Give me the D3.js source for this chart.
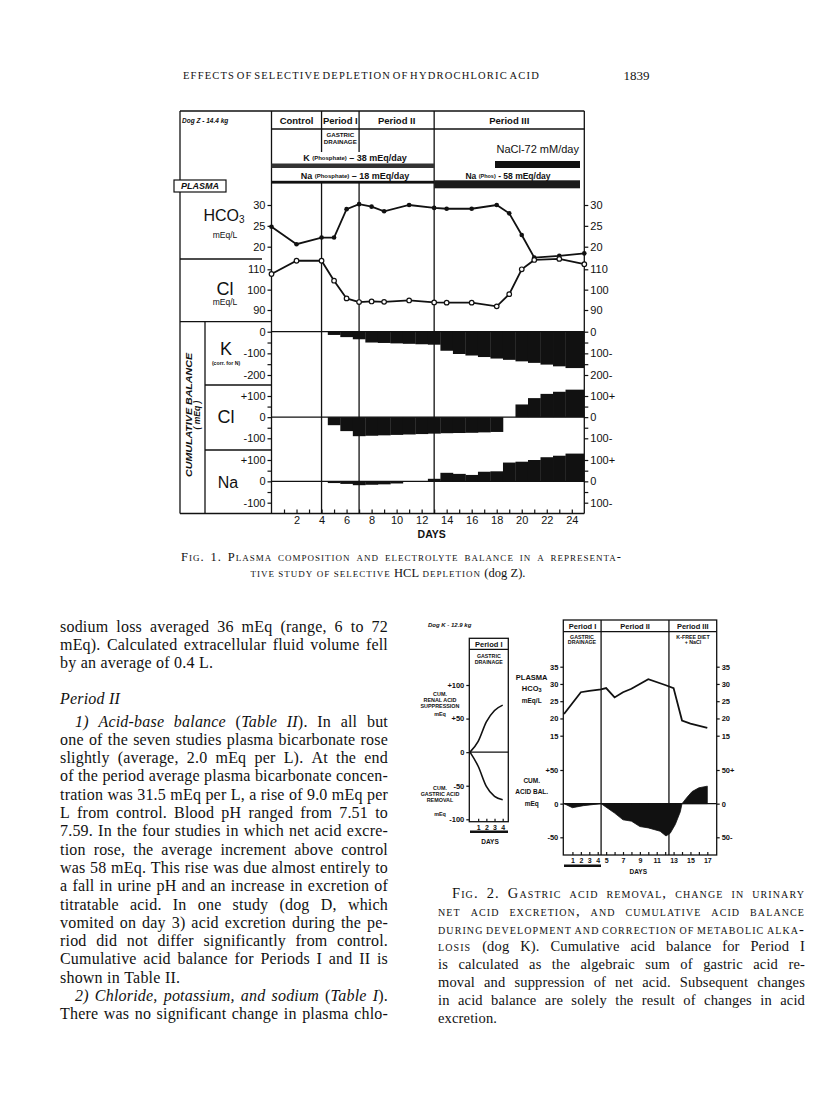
<!DOCTYPE html>
<html><head><meta charset="utf-8">
<script src="https://cdn.jsdelivr.net/npm/d3@7"></script>
<style>body{margin:0;background:#fff}svg{display:block}</style>
</head><body>
<svg id="page" width="816" height="1109"></svg>
<script>
// ---------------- DATA ----------------
// Figure 1 (dog Z)
const fig1Periods = ["Control", "Period I", "Period II", "Period III"];
const fig1PeriodBounds = [0, 4, 7, 13, 25];
const fig1Days = [0, 2, 4, 5, 6, 7, 8, 9, 11, 13, 14, 16, 18, 19, 20, 21, 23, 25];
const fig1HCO3 = [24.8, 20.6, 22.2, 22.2, 29.0, 30.2, 29.6, 28.5, 30.0, 29.3, 29.1, 29.1, 30.0, 28.0, 22.8, 17.4, 17.8, 18.4];
const fig1Cl = [107.7, 114.2, 114.2, 104.4, 95.7, 93.9, 94.2, 94.0, 94.7, 93.7, 93.6, 93.6, 91.8, 97.8, 110.0, 114.6, 115.1, 112.5];
const balDays = [5, 6, 7, 8, 9, 10, 11, 12, 13, 14, 15, 16, 17, 18, 19, 20, 21, 22, 23, 24];
const balK = [-15, -25, -35, -50, -52, -54, -56, -58, -60, -88, -103, -110, -117, -124, -130, -137, -144, -152, -160, -168];
const balCl = [-38, -66, -90, -88, -86, -84, -82, -80, -78, -76, -75, -74, -72, -70, 0, 60, 90, 110, 120, 130];
const balNa = [-8, -12, -18, -16, -14, -10, -3, 0, 12, 40, 35, 30, 45, 47, 88, 92, 100, 113, 120, 130];
const fig1XLabels = [2, 4, 6, 8, 10, 12, 14, 16, 18, 20, 22, 24];

// Figure 2 (dog K)
const fig2LDays = [0, 1, 2, 3, 4];
const fig2Renal = [0, 16, 45, 62, 70];
const fig2Gastric = [0, -21, -51, -66, -71];
const fig2Periods = ["Period I", "Period II", "Period III"];
const fig2PeriodBounds = [0, 4.4, 12.45, 18.1];
const fig2HDays = [0, 2, 3, 4.4, 5, 6, 7, 8, 10, 12, 13, 14, 15, 17];
const fig2HCO3 = [21.3, 27.6, 28.0, 28.4, 28.8, 26.1, 27.6, 28.6, 31.4, 29.7, 28.8, 19.4, 18.5, 17.3];
const fig2AcidDays = [0, 1, 2.3, 4.4, 6, 7, 8, 9, 10, 11.4, 12.1, 12.6, 13.2, 13.8, 14, 14.6, 15.2, 16, 17];
const fig2Acid = [0, -6, -3, 0, -14, -24, -26, -34, -36, -41, -48, -44, -31, -12, 0, 9.5, 18, 23.5, 26];
const fig2XLabels = [1, 2, 3, 4, 5, 7, 9, 11, 13, 15, 17];

// Text
const pageTitle = "EFFECTS OF SELECTIVE DEPLETION OF HYDROCHLORIC ACID";
const pageNumber = "1839";
const fig1Caption = ["~Fig. 1. Plasma composition and electrolyte balance in a representa-~",
  "~tive study of selective~ HCL ~depletion~ (dog Z)."];
const bodyTop = ["sodium loss averaged 36 mEq (range, 6 to 72",
  "mEq). Calculated extracellular fluid volume fell",
  "by an average of 0.4 L."];
const bodyHeading = "Period II";
const bodyMain = ["_1) Acid-base balance_ (_Table II_). In all but",
  "one of the seven studies plasma bicarbonate rose",
  "slightly (average, 2.0 mEq per L). At the end",
  "of the period average plasma bicarbonate concen-",
  "tration was 31.5 mEq per L, a rise of 9.0 mEq per",
  "L from control. Blood pH ranged from 7.51 to",
  "7.59. In the four studies in which net acid excre-",
  "tion rose, the average increment above control",
  "was 58 mEq. This rise was due almost entirely to",
  "a fall in urine pH and an increase in excretion of",
  "titratable acid. In one study (dog D, which",
  "vomited on day 3) acid excretion during the pe-",
  "riod did not differ significantly from control.",
  "Cumulative acid balance for Periods I and II is",
  "shown in Table II.",
  "_2) Chloride, potassium, and sodium_ (_Table I_).",
  "There was no significant change in plasma chlo-"];
const fig2Caption = ["~Fig. 2. Gastric acid removal, change in urinary~",
  "~net acid excretion, and cumulative acid balance~",
  "~during development and correction of metabolic alka-~",
  "~losis~ (dog K). Cumulative acid balance for Period I",
  "is calculated as the algebraic sum of gastric acid re-",
  "moval and suppression of net acid. Subsequent changes",
  "in acid balance are solely the result of changes in acid",
  "excretion."];

// ---------------- HELPERS ----------------
const BLACK = "#111";
const SANS = "Liberation Sans, Arial, sans-serif";
const SERIF = "Liberation Serif, Times New Roman, serif";
const svg = d3.select("#page");

function ln(g, xa, ya, xb, yb, w = 1.3) {
  g.append("line").attr("x1", xa).attr("y1", ya).attr("x2", xb).attr("y2", yb)
    .attr("stroke", BLACK).attr("stroke-width", w);
}
function tx(g, x, y, s, o = {}) {
  const t = g.append("text").attr("x", x).attr("y", y).text(s)
    .attr("font-family", o.family || SANS).attr("font-size", o.size || 10)
    .attr("text-anchor", o.anchor || "middle").attr("dominant-baseline", "central")
    .attr("fill", BLACK);
  if (o.weight) t.attr("font-weight", o.weight);
  if (o.italic) t.attr("font-style", "italic");
  if (o.len) t.attr("textLength", o.len).attr("lengthAdjust", "spacingAndGlyphs");
  return t;
}
function styleAxis(g, size, weight) {
  g.select(".domain").remove();
  g.selectAll(".tick line").attr("stroke", BLACK).attr("stroke-width", 1.2);
  g.selectAll(".tick text").attr("fill", BLACK).attr("font-family", SANS)
    .attr("font-size", size).attr("font-weight", weight || "normal");
}
function parseWords(s) {
  let it = false, sc = false;
  return s.split(" ").map(w => {
    const segs = []; let cur = "";
    for (const ch of w) {
      if (ch === "_" || ch === "~") {
        if (cur) { segs.push({ t: cur, it, sc }); cur = ""; }
        if (ch === "_") it = !it; else sc = !sc;
      } else cur += ch;
    }
    if (cur) segs.push({ t: cur, it, sc });
    return segs;
  });
}
function textLine(g, s, xa, xb, y, o) {
  const words = parseWords(s);
  const els = words.map(segs => {
    const t = g.append("text").attr("y", y).attr("font-family", o.family || SERIF)
      .attr("font-size", o.size).attr("fill", BLACK);
    if (o.ls) t.style("letter-spacing", o.ls + "px");
    segs.forEach(sg => {
      const sp = t.append("tspan").text(sg.t);
      if (sg.it) sp.attr("font-style", "italic");
      if (sg.sc) sp.style("font-variant", "small-caps").style("letter-spacing", (o.scls || 0.8) + "px");
    });
    return t;
  });
  const widths = els.map(t => t.node().getComputedTextLength());
  const total = d3.sum(widths);
  let gap = o.size * 0.27;
  let x = xa;
  if (o.mode === "justify" && els.length > 1) gap = (xb - xa - total) / (els.length - 1);
  if (o.mode === "center") x = (xa + xb) / 2 - (total + gap * (els.length - 1)) / 2;
  els.forEach((t, i) => { t.attr("x", x); x += widths[i] + gap; });
}
const num = d => String(d);

// ---------------- PAGE HEADER ----------------
const head = svg.append("g");
textLine(head, pageTitle, 183, 540, 79, { size: 10.5, mode: "justify", ls: 1.2 });
tx(head, 636.5, 75, pageNumber, { family: SERIF, size: 13 });

// ---------------- FIGURE 1 ----------------
const f1 = svg.append("g");
const x1 = d3.scaleLinear([0, 25], [271.5, 584.3]);
const yH = d3.scaleLinear([20, 30], [246.7, 205]);
const yC = d3.scaleLinear([90, 110], [310, 269.3]);
const yK = d3.scaleLinear([-200, 0], [375, 331.7]);
const yBCl = d3.scaleLinear([-100, 100], [438.3, 396]);
const yBNa = d3.scaleLinear([-100, 100], [502.7, 460]);
const L1 = 180, R1 = x1(25), T1 = 111, B1 = 513.5, P1 = x1(0);

// frame
ln(f1, L1, T1, R1, T1); ln(f1, R1, T1, R1, B1); ln(f1, L1, B1, R1, B1);
ln(f1, L1, T1, L1, B1); ln(f1, P1, T1, P1, B1);
ln(f1, P1, 129, R1, 129);
[4, 7].forEach(d => { ln(f1, x1(d), T1, x1(d), 152); ln(f1, x1(d), 183, x1(d), B1); });
ln(f1, x1(13), T1, x1(13), B1);
ln(f1, L1, 259, 262, 259);
ln(f1, L1, 321.7, P1, 321.7);
ln(f1, 205, 321.7, 205, B1);
ln(f1, 205, 385, P1, 385);
ln(f1, 205, 450, P1, 450);

// header
fig1Periods.forEach((p, i) => {
  tx(f1, (x1(fig1PeriodBounds[i]) + x1(fig1PeriodBounds[i + 1])) / 2, 120.5, p, { size: 9.5, weight: "bold" });
});
tx(f1, 182, 120, "Dog Z - 14.4 kg", { size: 6.5, weight: "bold", italic: true, anchor: "start" });
tx(f1, (x1(4) + x1(7)) / 2, 134.5, "GASTRIC", { size: 6.2, weight: "bold" });
tx(f1, (x1(4) + x1(7)) / 2, 141.5, "DRAINAGE", { size: 6.2, weight: "bold" });

const kt = f1.append("text").attr("x", 355).attr("y", 158).attr("text-anchor", "middle")
  .attr("dominant-baseline", "central").attr("font-family", SANS).attr("font-weight", "bold").attr("fill", BLACK);
kt.append("tspan").attr("font-size", 9).text("K ");
kt.append("tspan").attr("font-size", 6).text("(Phosphate)");
kt.append("tspan").attr("font-size", 9).text(" \u2013 38 mEq/day");
const nt = f1.append("text").attr("x", 355).attr("y", 176).attr("text-anchor", "middle")
  .attr("dominant-baseline", "central").attr("font-family", SANS).attr("font-weight", "bold").attr("fill", BLACK);
nt.append("tspan").attr("font-size", 9).text("Na ");
nt.append("tspan").attr("font-size", 6).text("(Phosphate)");
nt.append("tspan").attr("font-size", 9).text(" \u2013 18 mEq/day");
const nt3 = f1.append("text").attr("x", 508).attr("y", 176).attr("text-anchor", "middle")
  .attr("dominant-baseline", "central").attr("font-family", SANS).attr("font-weight", "bold").attr("fill", BLACK);
nt3.append("tspan").attr("font-size", 8.5).text("Na ");
nt3.append("tspan").attr("font-size", 5.5).text("(Phos)");
nt3.append("tspan").attr("font-size", 8.5).text(" - 58 mEq/day");
tx(f1, 579, 149, "NaCl-72 mM/day", { size: 11, anchor: "end" });

f1.append("rect").attr("x", x1(0)).attr("y", 163.5).attr("width", x1(13) - x1(0)).attr("height", 4.5).attr("fill", "#333");
f1.append("rect").attr("x", x1(0)).attr("y", 180.8).attr("width", x1(13) - x1(0)).attr("height", 2.8).attr("fill", BLACK);
f1.append("rect").attr("x", 495).attr("y", 161).attr("width", 85).attr("height", 7).attr("fill", BLACK);
f1.append("rect").attr("x", x1(13)).attr("y", 180.3).attr("width", 580 - x1(13)).attr("height", 8).attr("fill", "#1a1a1a");

// PLASMA tag
f1.append("rect").attr("x", 174).attr("y", 180).attr("width", 52).attr("height", 12)
  .attr("fill", "#fff").attr("stroke", BLACK).attr("stroke-width", 1.2);
tx(f1, 200, 186.3, "PLASMA", { size: 9, weight: "bold", italic: true });

// left labels
const hco = f1.append("text").attr("x", 224).attr("y", 215).attr("text-anchor", "middle")
  .attr("dominant-baseline", "central").attr("font-family", SANS).attr("fill", BLACK);
hco.append("tspan").attr("font-size", 16).text("HCO");
hco.append("tspan").attr("font-size", 10).attr("dy", 4).text("3");
tx(f1, 225, 235, "mEq/L", { size: 8.5 });
tx(f1, 225, 288.5, "Cl", { size: 18 });
tx(f1, 225, 302, "mEq/L", { size: 8.5 });
tx(f1, 226, 348.5, "K", { size: 18 });
tx(f1, 226, 363.3, "(corr. for N)", { size: 5.2, weight: "bold" });
tx(f1, 226, 416.7, "Cl", { size: 18 });
tx(f1, 228, 482, "Na", { size: 16 });
const rot = f1.append("g").attr("transform", "translate(188.5,415) rotate(-90)");
tx(rot, 0, 0, "CUMULATIVE BALANCE", { size: 9, weight: "bold", italic: true, len: 124 });
tx(rot, 0, 8.5, "( mEq )", { size: 8.5, weight: "bold", italic: true });

// axes fig 1
function pm(d) { return d > 0 ? "+" + d : d < 0 ? "-" + (-d) : "0"; }
function pmR(d) { return d > 0 ? d + "+" : d < 0 ? (-d) + "-" : "0"; }
function addAxes(g, scale, majors, minors, fmtL, fmtR) {
  if (minors) {
    g.append("g").attr("transform", `translate(${P1},0)`)
      .call(d3.axisLeft(scale).tickValues(minors).tickSize(4).tickFormat(""))
      .call(a => styleAxis(a, 11));
    g.append("g").attr("transform", `translate(${R1},0)`)
      .call(d3.axisRight(scale).tickValues(minors).tickSize(4).tickFormat(""))
      .call(a => styleAxis(a, 11));
  }
  g.append("g").attr("transform", `translate(${P1},0)`)
    .call(d3.axisLeft(scale).tickValues(majors).tickSize(4).tickPadding(2).tickFormat(fmtL))
    .call(a => styleAxis(a, 11));
  g.append("g").attr("transform", `translate(${R1},0)`)
    .call(d3.axisRight(scale).tickValues(majors).tickSize(4).tickPadding(2).tickFormat(fmtR))
    .call(a => styleAxis(a, 11));
}
addAxes(f1, yH, [20, 25, 30], null, num, num);
addAxes(f1, yC, [90, 100, 110], null, num, num);
addAxes(f1, yK, [-200, -100, 0], [-150, -50], pm, d => d === 0 ? "0" : (-d) + "-");
addAxes(f1, yBCl, [-100, 0, 100], [-50, 50], pm, pmR);
addAxes(f1, yBNa, [-100, 0, 100], [-50, 50], pm, pmR);

f1.append("g").attr("transform", `translate(0,${B1})`)
  .call(d3.axisBottom(x1).tickValues(d3.range(1, 25)).tickSize(-4).tickPadding(3)
    .tickFormat(d => fig1XLabels.includes(d) ? String(d) : ""))
  .call(a => styleAxis(a, 11));
tx(f1, 431.7, 533.5, "DAYS", { size: 10.5, weight: "bold" });

// balance bars
function bars(vals, scale) {
  const z = scale(0);
  ln(f1, P1, z, R1, z, 1.3);
  f1.append("g").selectAll("rect").data(balDays).join("rect")
    .attr("x", d => x1(d - 0.5))
    .attr("width", (d, i) => (i === balDays.length - 1 ? x1(25) - 0.6 : x1(d + 0.5)) - x1(d - 0.5) + 0.3)
    .attr("y", (d, i) => Math.min(z, scale(vals[i])))
    .attr("height", (d, i) => Math.abs(scale(vals[i]) - z))
    .attr("fill", BLACK);
}
bars(balK, yK); bars(balCl, yBCl); bars(balNa, yBNa);

// plasma lines
const lineH = d3.line().x((d, i) => x1(fig1Days[i])).y(d => yH(d));
const lineC = d3.line().x((d, i) => x1(fig1Days[i])).y(d => yC(d));
f1.append("path").datum(fig1HCO3).attr("d", lineH).attr("fill", "none").attr("stroke", BLACK).attr("stroke-width", 1.8);
f1.append("path").datum(fig1Cl).attr("d", lineC).attr("fill", "none").attr("stroke", BLACK).attr("stroke-width", 1.8);
f1.append("g").selectAll("circle").data(fig1HCO3).join("circle")
  .attr("cx", (d, i) => x1(fig1Days[i])).attr("cy", d => yH(d)).attr("r", 2.3).attr("fill", BLACK);
f1.append("g").selectAll("circle").data(fig1Cl).join("circle")
  .attr("cx", (d, i) => x1(fig1Days[i])).attr("cy", d => yC(d)).attr("r", 2.3)
  .attr("fill", "#fff").attr("stroke", BLACK).attr("stroke-width", 1.2);

// caption fig 1
const cap1 = svg.append("g");
textLine(cap1, fig1Caption[0], 181, 622, 561, { size: 12.5, mode: "justify", scls: 1.0 });
textLine(cap1, fig1Caption[1], 235, 541, 577, { size: 12.5, mode: "center", scls: 1.0 });

// ---------------- BODY TEXT ----------------
const body = svg.append("g");
const BX0 = 60, BX1 = 388, BS = 16;
bodyTop.forEach((s, i) => {
  textLine(body, s, BX0, BX1, 632 + i * 18.2, { size: BS, mode: i < 2 ? "justify" : "left", ls: 0.2 });
});
textLine(body, "_" + bodyHeading + "_", BX0, BX1, 704, { size: BS, mode: "left", ls: 0.2 });
bodyMain.forEach((s, i) => {
  const indent = (i === 0 || i === 15) ? 15 : 0;
  textLine(body, s, BX0 + indent, BX1, 726.5 + i * 18.3, { size: BS, mode: i === 14 ? "left" : "justify", ls: 0.2 });
});

// ---------------- FIGURE 2 ----------------
const f2 = svg.append("g");
// left panel
const x2L = d3.scaleLinear([0, 4], [470, 502.7]);
const y2L = d3.scaleLinear([-100, 100], [819.3, 685]);
const LL = 469.3, LR = 508.3, LT = 638.3, LB = 821.7;
f2.append("rect").attr("x", LL).attr("y", LT).attr("width", LR - LL).attr("height", LB - LT)
  .attr("fill", "none").attr("stroke", BLACK).attr("stroke-width", 1.3);
ln(f2, LL, 649.3, LR, 649.3);
tx(f2, (LL + LR) / 2, 644, "Period I", { size: 7.5, weight: "bold" });
tx(f2, (LL + LR) / 2, 655.5, "GASTRIC", { size: 5.3, weight: "bold" });
tx(f2, (LL + LR) / 2, 661.5, "DRAINAGE", { size: 5.3, weight: "bold" });
ln(f2, LL, y2L(0), LR, y2L(0), 1.2);
f2.append("g").attr("transform", `translate(${LL},0)`)
  .call(d3.axisLeft(y2L).tickValues([-100, -50, 0, 50, 100]).tickSize(3).tickPadding(2).tickFormat(pm))
  .call(a => styleAxis(a, 7.5, "bold"));
f2.append("g").attr("transform", `translate(0,${LB})`)
  .call(d3.axisBottom(x2L).tickValues([1, 2, 3, 4]).tickSize(-3).tickPadding(3).tickFormat(num))
  .call(a => styleAxis(a, 7, "bold"));
f2.append("rect").attr("x", 470).attr("y", 830.5).attr("width", 38).attr("height", 2.5).attr("fill", BLACK);
tx(f2, 490, 841, "DAYS", { size: 6.5, weight: "bold" });
const l2 = d3.line().x((d, i) => x2L(fig2LDays[i])).y(d => y2L(d)).curve(d3.curveMonotoneX);
f2.append("path").datum(fig2Renal).attr("d", l2).attr("fill", "none").attr("stroke", BLACK).attr("stroke-width", 1.6);
f2.append("path").datum(fig2Gastric).attr("d", l2).attr("fill", "none").attr("stroke", BLACK).attr("stroke-width", 1.6);
tx(f2, 428, 625, "Dog K - 12.9 kg", { size: 6, weight: "bold", italic: true, anchor: "start" });
[["CUM.", 694.3], ["RENAL ACID", 700], ["SUPPRESSION", 705.7], ["mEq", 714],
 ["CUM.", 787.5], ["GASTRIC ACID", 794], ["REMOVAL", 800], ["mEq", 814]].forEach(([s, y]) =>
  tx(f2, 440, y, s, { size: 5.4, weight: "bold" }));

// right panel
const x2R = d3.scaleLinear([0, 17], [564, 707.3]);
const y2H = d3.scaleLinear([15, 35], [735.7, 666.7]);
const y2A = d3.scaleLinear([-50, 50], [837.3, 770]);
const RL = 563.3, RR = 716.7, RT = 620, RB = 855;
f2.append("rect").attr("x", RL).attr("y", RT).attr("width", RR - RL).attr("height", RB - RT)
  .attr("fill", "none").attr("stroke", BLACK).attr("stroke-width", 1.3);
ln(f2, RL, 631.7, RR, 631.7);
[1, 2].forEach(i => ln(f2, x2R(fig2PeriodBounds[i]), RT, x2R(fig2PeriodBounds[i]), RB));
fig2Periods.forEach((p, i) => {
  const a = Math.max(RL, x2R(fig2PeriodBounds[i])), b = Math.min(RR, x2R(fig2PeriodBounds[i + 1]));
  tx(f2, (a + b) / 2, 626, p, { size: 7.5, weight: "bold" });
});
tx(f2, 582, 636.5, "GASTRIC", { size: 5.3, weight: "bold" });
tx(f2, 582, 642, "DRAINAGE", { size: 5.3, weight: "bold" });
tx(f2, 693, 636.5, "K-FREE DIET", { size: 5.3, weight: "bold" });
tx(f2, 693, 642, "+ NaCl", { size: 5.3, weight: "bold" });
ln(f2, RL, y2A(0), RR, y2A(0), 1.2);
f2.append("g").attr("transform", `translate(${RL},0)`)
  .call(d3.axisLeft(y2H).tickValues([15, 20, 25, 30, 35]).tickSize(3).tickPadding(2).tickFormat(num))
  .call(a => styleAxis(a, 7.5, "bold"));
f2.append("g").attr("transform", `translate(${RR},0)`)
  .call(d3.axisRight(y2H).tickValues([15, 20, 25, 30, 35]).tickSize(3).tickPadding(2).tickFormat(num))
  .call(a => styleAxis(a, 7.5, "bold"));
f2.append("g").attr("transform", `translate(${RL},0)`)
  .call(d3.axisLeft(y2A).tickValues([-50, 0, 50]).tickSize(3).tickPadding(2).tickFormat(pm))
  .call(a => styleAxis(a, 7.5, "bold"));
f2.append("g").attr("transform", `translate(${RR},0)`)
  .call(d3.axisRight(y2A).tickValues([-50, 0, 50]).tickSize(3).tickPadding(2).tickFormat(pmR))
  .call(a => styleAxis(a, 7.5, "bold"));
f2.append("g").attr("transform", `translate(0,${RB})`)
  .call(d3.axisBottom(x2R).tickValues(d3.range(1, 18)).tickSize(-3).tickPadding(3)
    .tickFormat(d => fig2XLabels.includes(d) ? String(d) : ""))
  .call(a => styleAxis(a, 7, "bold"));
f2.append("rect").attr("x", 564).attr("y", 864.5).attr("width", 37).attr("height", 2.5).attr("fill", BLACK);
tx(f2, 638.3, 871.5, "DAYS", { size: 6.5, weight: "bold" });

const areaA = d3.area().x((d, i) => x2R(fig2AcidDays[i])).y0(y2A(0)).y1(d => y2A(d));
f2.append("path").datum(fig2Acid).attr("d", areaA).attr("fill", BLACK).attr("stroke", BLACK).attr("stroke-width", 0.8);
const lineH2 = d3.line().x((d, i) => x2R(fig2HDays[i])).y(d => y2H(d));
f2.append("path").datum(fig2HCO3).attr("d", lineH2).attr("fill", "none").attr("stroke", BLACK).attr("stroke-width", 1.8);

tx(f2, 531.7, 677, "PLASMA", { size: 7.5, weight: "bold" });
const h2 = f2.append("text").attr("x", 531.7).attr("y", 688).attr("text-anchor", "middle")
  .attr("dominant-baseline", "central").attr("font-family", SANS).attr("font-weight", "bold").attr("fill", BLACK);
h2.append("tspan").attr("font-size", 7.5).text("HCO");
h2.append("tspan").attr("font-size", 5.5).attr("dy", 2).text("3");
tx(f2, 531.7, 700, "mEq/L", { size: 6.5, weight: "bold" });
tx(f2, 531.7, 780, "CUM.", { size: 6.5, weight: "bold" });
tx(f2, 531.7, 791.5, "ACID BAL.", { size: 6.5, weight: "bold" });
tx(f2, 531.7, 803, "mEq", { size: 6.5, weight: "bold" });

// caption fig 2
const cap2 = svg.append("g");
fig2Caption.forEach((s, i) => {
  const x0 = i === 0 ? 452 : 438;
  textLine(cap2, s, x0, 805, 898 + i * 17.8, { size: 14.5, mode: i === 7 ? "left" : "justify", scls: 1.1, ls: 0.15 });
});
</script>
</body></html>
